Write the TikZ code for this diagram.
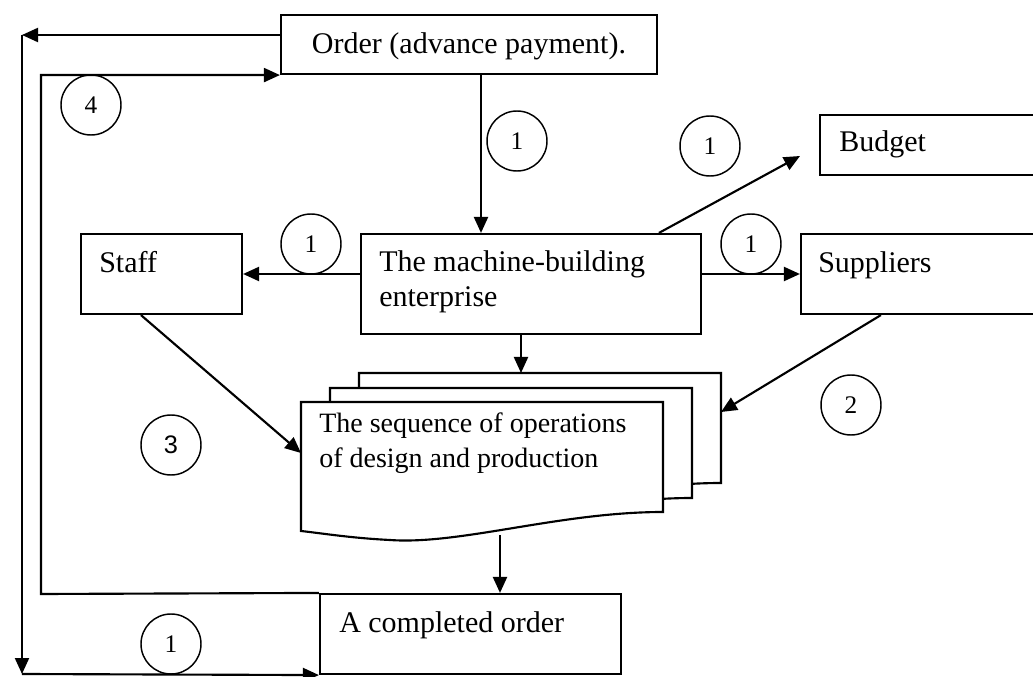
\documentclass[tikz,border=0pt]{standalone}
\usepackage{fontspec}
\setmainfont{Liberation Serif}
\newfontfamily\numsans{Liberation Sans}
\usetikzlibrary{arrows.meta,fit,calc}
\begin{document}
\begin{tikzpicture}[x=0.75pt,y=-0.75pt,
  box/.style={draw, line width=1.6pt, inner sep=0pt},
  lbl/.style={font=\fontsize{22.5}{27}\selectfont, inner sep=0pt, anchor=base west},
  doctxt/.style={font=\fontsize{21}{25}\selectfont, inner sep=0pt, anchor=base west},
  num/.style={draw, circle, line width=1.1pt, minimum size=45pt, inner sep=0pt,
              font=\fontsize{19}{22}\selectfont},
  arr/.style={line width=1.6pt, -{Triangle[length=12pt,width=10.5pt]}},
  docpage/.style={draw, fill=white, line width=1.6pt, line join=miter}]
\useasboundingbox (0,0) rectangle (1033,677);
\clip (0,0) rectangle (1033,677);

% boxes
\node[box, fit={(281,15) (657,74)}] (order) {};
\node[box, fit={(820,115) (1060,175)}] (budget) {};
\node[box, fit={(81,234) (242,314)}] (staff) {};
\node[box, fit={(361,234) (701,334)}] (ent) {};
\node[box, fit={(801,234) (1060,314)}] (supp) {};
\node[box, fit={(320,594) (621,674)}] (done) {};

% box texts
\node[lbl, anchor=base] (ordertxt) at (469,54) {Order (advance payment).};
\node[lbl] (budgettxt) at (839,152) {Budget};
\node[lbl] (stafftxt) at (99,273) {Staff};
\node[lbl] (enttxt1) at (379,272) {The machine-building};
\node[lbl] (enttxt2) at (379,307) {enterprise};
\node[lbl] (supptxt) at (818,273) {Suppliers};
\node[lbl] (donetxt) at (339,633) {A completed order};

% stacked document pages (back to front)
\foreach \dx/\dy in {58/-29, 29/-14, 0/0}{
  \draw[docpage, shift={(\dx,\dy)}]
    (301,402) -- (663,402) -- (663,512)
    .. controls (560,512) and (460,545) .. (390,540)
    .. controls (350,538) and (320,533) .. (301,531) -- cycle;
}
\node[doctxt] (doctxt1) at (319,433) {The sequence of operations};
\node[doctxt] (doctxt2) at (319,468) {of design and production};

\coordinate (dtop) at (521,373);
\coordinate (dleft) at (301,453);
\coordinate (dright) at (721,412);
\coordinate (dbot) at (500,535);

% outer loop
\coordinate (tl) at (22,35);
\coordinate (bl) at (22,674);
\draw[arr] (tl -| order.west) -- (tl);
\draw[arr] (tl) -- (bl);
\draw[arr] (bl) -- (done.south west);

% inner loop
\coordinate (lb) at (41,594);
\draw[arr] (done.north west) -- (lb) |- (order.south west);

% flows from the order and the enterprise
\coordinate (oe) at (481,0);
\draw[arr] (order.south -| oe) -- (ent.north -| oe);
\coordinate (bt) at (800,156);
\draw[arr] ($(ent.north west)+(299,0)$) -- (bt);
\draw[arr] (ent.west |- staff.east) -- (staff.east);
\draw[arr] (ent.east |- supp.west) -- (supp.west);
\draw[arr] (ent.south -| dtop) -- (dtop);
\draw[arr] ($(staff.south west)+(61,0)$) -- (dleft);
\draw[arr] ($(supp.south west)+(81,0)$) -- (dright);
\draw[arr] (dbot) -- (dbot |- done.north);

% step numbers
\node[num] (n4) at (91,105) {4};
\node[num] (n1a) at (517,141) {1};
\node[num] (n1b) at (710,146) {1};
\node[num] (n1c) at (311,244) {1};
\node[num] (n1d) at (751,244) {1};
\node[num] (n2) at (851,405) {2};
\node[num, font=\numsans\fontsize{19}{22}\selectfont] (n3) at (171,445) {3};
\node[num] (n1e) at (171,644) {1};
\end{tikzpicture}
\end{document}
